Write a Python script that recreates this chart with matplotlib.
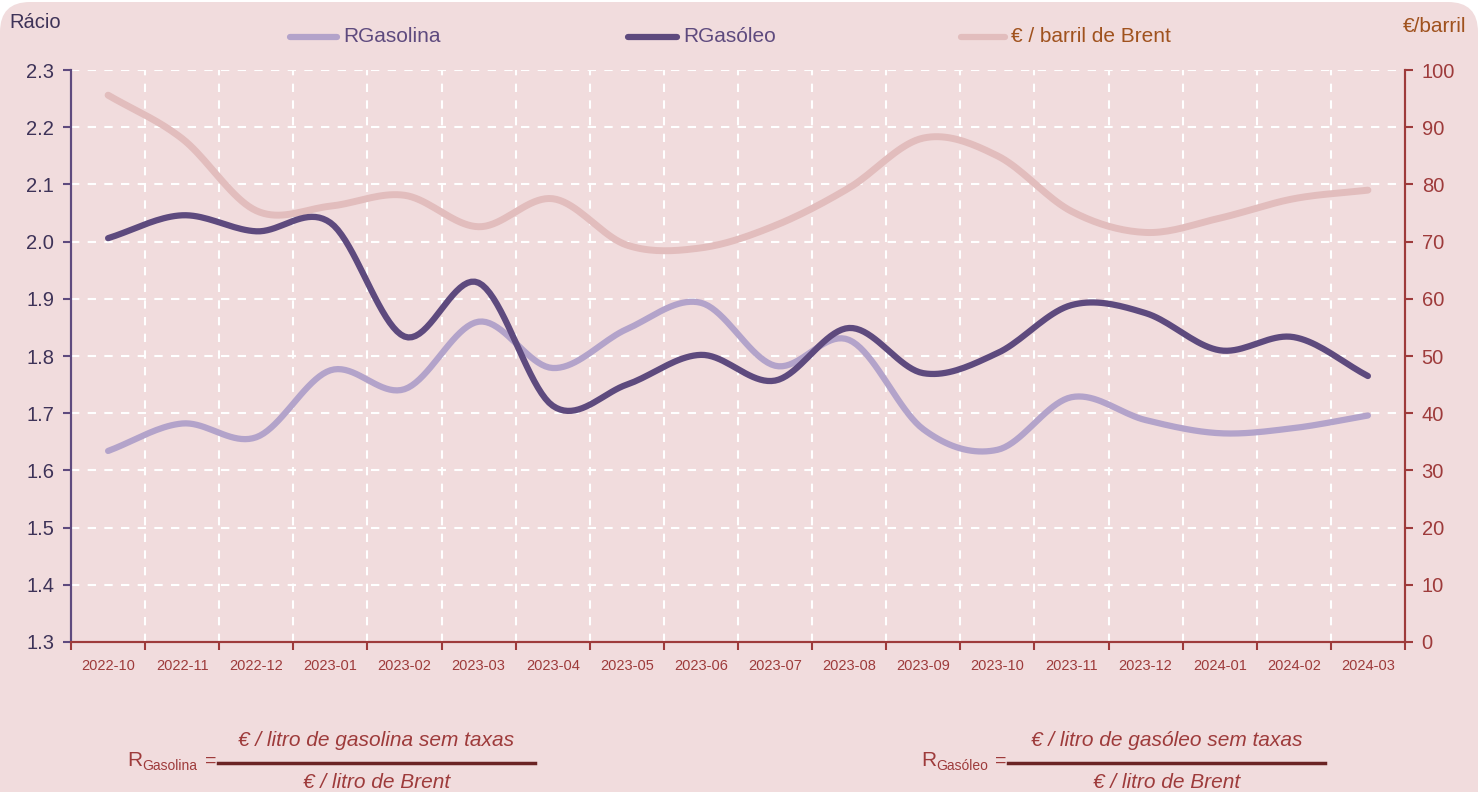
import numpy as np
import matplotlib.pyplot as plt
from matplotlib.lines import Line2D
from matplotlib.patches import FancyBboxPatch

months = ["2022-10", "2022-11", "2022-12", "2023-01", "2023-02", "2023-03",
          "2023-04", "2023-05", "2023-06", "2023-07", "2023-08", "2023-09",
          "2023-10", "2023-11", "2023-12", "2024-01", "2024-02", "2024-03"]
r_gasolina = [1.634, 1.682, 1.658, 1.775, 1.742, 1.860, 1.779, 1.847, 1.893, 1.783,
              1.828, 1.672, 1.636, 1.728, 1.688, 1.665, 1.674, 1.696]
r_gasoleo = [2.006, 2.046, 2.018, 2.033, 1.834, 1.928, 1.713, 1.750, 1.802, 1.757,
             1.849, 1.770, 1.805, 1.889, 1.875, 1.810, 1.833, 1.765]
brent = [95.6, 88.0, 75.4, 76.2, 78.1, 72.6, 77.5, 69.4, 68.9, 72.8,
         79.4, 88.1, 85.0, 75.3, 71.6, 74.1, 77.5, 79.0]

BG = "#F1DCDD"
PURPLE = "#5E4A7E"
LILAC = "#B3A3CA"
PINK = "#E2BDBD"
RED = "#9E3B3B"
BROWN = "#A0521E"


def smooth(y, n=20):
    # Catmull-Rom through the data points (Excel-like smoothed line)
    y = np.asarray(y, float)
    p = np.concatenate([[2 * y[0] - y[1]], y, [2 * y[-1] - y[-2]]])
    xs, ys = [], []
    for i in range(len(y) - 1):
        t = np.linspace(0, 1, n, endpoint=False)
        p0, p1, p2, p3 = p[i], p[i + 1], p[i + 2], p[i + 3]
        seg = 0.5 * ((2 * p1) + (-p0 + p2) * t + (2 * p0 - 5 * p1 + 4 * p2 - p3) * t ** 2
                     + (-p0 + 3 * p1 - 3 * p2 + p3) * t ** 3)
        xs.append(i + t)
        ys.append(seg)
    xs.append([len(y) - 1])
    ys.append([y[-1]])
    return np.concatenate(xs), np.concatenate(ys)


fig = plt.figure(figsize=(14.8, 7.92), dpi=100, facecolor="white")
fig.patches.append(FancyBboxPatch((0.0, -1.0), 14.78, 8.9,
                                  boxstyle="round,pad=0,rounding_size=0.3",
                                  transform=fig.dpi_scale_trans, facecolor=BG,
                                  edgecolor="none", zorder=-10))
plt.rcParams['font.family'] = ['Liberation Sans', 'DejaVu Sans']

ax = fig.add_axes([0.048, 0.1894, 0.9013, 0.7222])
ax2 = ax.twinx()

x = np.arange(len(months))
bx, by = smooth(brent)
ax2.plot(bx, by, color=PINK, lw=5, solid_capstyle="round", zorder=1)
gx, gy = smooth(r_gasolina)
ax.plot(gx, gy, color=LILAC, lw=4.5, solid_capstyle="round", zorder=3)
dx, dy = smooth(r_gasoleo)
ax.plot(dx, dy, color=PURPLE, lw=4.5, solid_capstyle="round", zorder=4)

# brent axis sits under the ratio axis
ax.set_zorder(2)
ax.patch.set_visible(False)
ax2.set_zorder(1)
ax2.set_facecolor(BG)

ax.set_xlim(-0.5, len(months) - 0.5)
ax.set_ylim(1.3, 2.3)
ax2.set_ylim(0, 100)
ax.set_yticks(np.arange(1.3, 2.31, 0.1))
ax.set_yticklabels([f"{v:.1f}" for v in np.arange(1.3, 2.31, 0.1)])
ax2.set_yticks(np.arange(0, 101, 10))

ax.set_xticks(np.arange(-0.5, len(months), 1.0))
ax.set_xticklabels([])
ax.set_xticks(x, minor=True)
ax.set_xticklabels(months, minor=True, fontsize=10.5, color=RED)
ax.tick_params(axis="x", which="minor", length=0, pad=12)
ax.tick_params(axis="x", which="major", length=6, width=1.5, color=RED, direction="out")
ax.tick_params(axis="y", length=6, width=1.5, color=PURPLE, labelcolor="#3E3358",
               labelsize=14.5, pad=6)
ax2.tick_params(axis="y", length=6, width=1.5, color=RED, labelcolor=RED,
                labelsize=14.5, pad=6)

for xv in np.arange(0.5, len(months) - 1, 1.0):
    ax2.axvline(xv, color="white", lw=1.5, ls=(0, (4, 4)), zorder=0)
for yv in np.arange(10, 101, 10):
    ax2.axhline(yv, color="white", lw=1.5, ls=(0, (4, 4)), zorder=0)

for a in (ax, ax2):
    a.spines["top"].set_visible(False)
    a.spines["left"].set_color(PURPLE)
    a.spines["right"].set_color(RED)
    a.spines["bottom"].set_color(RED)
    for s in ("left", "right", "bottom"):
        a.spines[s].set_linewidth(1.5)

fig.text(9 / 1480, 1 - 22 / 792, "Rácio", fontsize=14.5, color="#3E3358", va="center")
fig.text(1466 / 1480, 1 - 27 / 792, "€/barril", fontsize=15, color=BROWN,
         va="center", ha="right")

# legend
legend_items = [(290, 337, LILAC, "RGasolina", PURPLE),
                (628, 677, PURPLE, "RGasóleo", PURPLE),
                (961, 1005, PINK, "€ / barril de Brent", BROWN)]
for x0, x1, c, lab, tc in legend_items:
    yy = 1 - 37 / 792
    fig.add_artist(Line2D([x0 / 1480, x1 / 1480], [yy, yy], color=c, lw=4.5,
                          solid_capstyle="round"))
    fig.text((x1 + 6) / 1480, yy, lab, fontsize=15, color=tc, va="center")

# formulas
formulas = [(127, 218, 535, "Gasolina", "€ / litro de gasolina sem taxas"),
            (921, 1008, 1325, "Gasóleo", "€ / litro de gasóleo sem taxas")]
for rx, l0, l1, sub, num in formulas:
    ly = 1 - 763 / 792
    fig.text(rx / 1480, 1 - 760 / 792, "R", fontsize=15, color=RED, va="center")
    fig.text((rx + 15) / 1480, 1 - 766 / 792, sub, fontsize=10, color=RED, va="center")
    fig.text((l0 - 2) / 1480, 1 - 761 / 792, "=", fontsize=14, color=RED, va="center",
             ha="right")
    fig.add_artist(Line2D([l0 / 1480, l1 / 1480], [ly, ly], color="#6B2424", lw=2.5))
    cx = (l0 + l1) / 2 / 1480
    fig.text(cx, 1 - 740 / 792, num, fontsize=15, color=RED, style="italic",
             ha="center", va="center")
    fig.text(cx, 1 - 782 / 792, "€ / litro de Brent", fontsize=15, color=RED,
             style="italic", ha="center", va="center")

fig.savefig("out.png", dpi=100, facecolor="white")
